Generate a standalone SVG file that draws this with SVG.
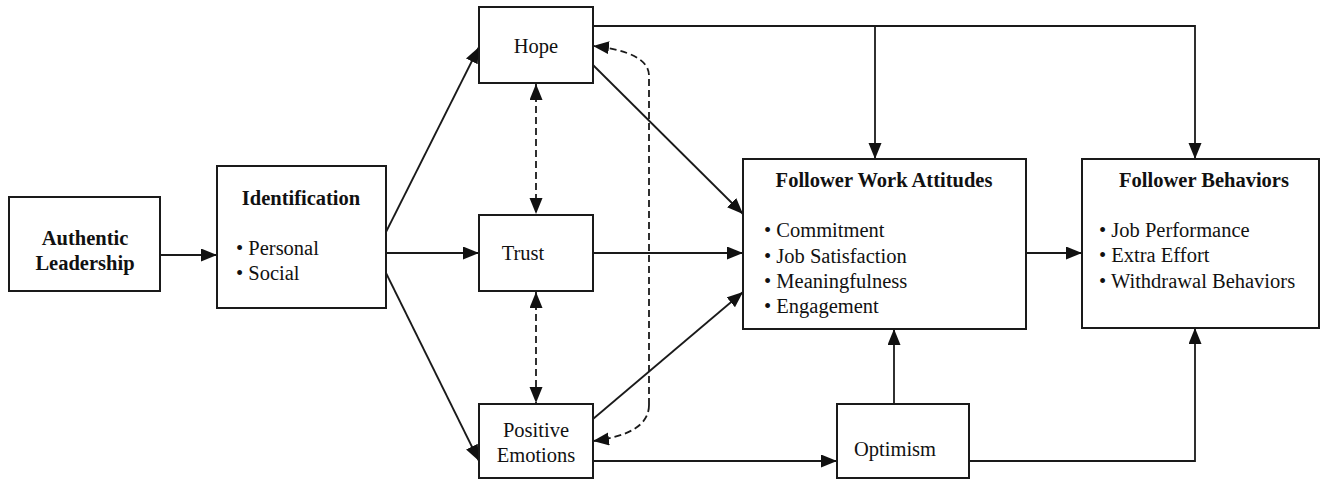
<svg xmlns="http://www.w3.org/2000/svg" width="1325" height="480" viewBox="0 0 1325 480">
<style>
.box{fill:#fff;stroke:#1a1a1a;stroke-width:2}
.t{font-family:"Liberation Serif","Times New Roman",serif;font-size:20.5px;fill:#111}
.b{font-weight:bold}
.c{text-anchor:middle}
.ln{fill:none;stroke:#1a1a1a;stroke-width:1.8}
.ds{fill:none;stroke:#1a1a1a;stroke-width:1.8;stroke-dasharray:7,4}
</style>
<defs>
<marker id="ah" markerUnits="userSpaceOnUse" markerWidth="18" markerHeight="14" refX="16" refY="6.5" orient="auto-start-reverse">
<path d="M0,0 L16,6.5 L0,13 z" fill="#111"/>
</marker>
</defs>
<rect width="1325" height="480" fill="#fff"/>
<g id="connectors">
<path class="ln" d="M160,255 L217,255" marker-end="url(#ah)"/>
<path class="ln" d="M386,232 L479,47" marker-end="url(#ah)"/>
<path class="ln" d="M386,253 L479,253" marker-end="url(#ah)"/>
<path class="ln" d="M386,273 L479,461" marker-end="url(#ah)"/>
<path class="ds" d="M536,84 L536,214" marker-start="url(#ah)" marker-end="url(#ah)"/>
<path class="ds" d="M536,292 L536,403" marker-start="url(#ah)" marker-end="url(#ah)"/>
<path class="ds" d="M649,405 Q649,434 593,441" marker-end="url(#ah)"/>
<path class="ds" d="M649,405 L649,76 Q649,52 593,46" marker-end="url(#ah)"/>
<path class="ln" d="M593,65 L743,214" marker-end="url(#ah)"/>
<path class="ln" d="M593,253 L743,253" marker-end="url(#ah)"/>
<path class="ln" d="M593,419 L743,292" marker-end="url(#ah)"/>
<path class="ln" d="M593,26 L1195,26 L1195,159" marker-end="url(#ah)"/>
<path class="ln" d="M875,26 L875,159" marker-end="url(#ah)"/>
<path class="ln" d="M1026,253 L1082,253" marker-end="url(#ah)"/>
<path class="ln" d="M593,461 L837,461" marker-end="url(#ah)"/>
<path class="ln" d="M894,404 L894,329" marker-end="url(#ah)"/>
<path class="ln" d="M969,461 L1195,461 L1195,328" marker-end="url(#ah)"/>
</g>
<g id="authentic-leadership">
<rect class="box" x="9" y="197" width="151" height="94"/>
<text class="t b c" x="85" y="245">Authentic</text>
<text class="t b c" x="85" y="270">Leadership</text>
</g>
<g id="identification">
<rect class="box" x="217" y="166" width="169" height="142"/>
<text class="t b c" x="301" y="205">Identification</text>
<text class="t" x="236" y="255">• Personal</text>
<text class="t" x="236" y="280">• Social</text>
</g>
<g id="hope">
<rect class="box" x="479" y="7" width="114" height="76"/>
<text class="t c" x="536" y="53">Hope</text>
</g>
<g id="trust">
<rect class="box" x="479" y="215" width="114" height="76"/>
<text class="t c" x="523" y="260">Trust</text>
</g>
<g id="positive-emotions">
<rect class="box" x="479" y="404" width="114" height="74"/>
<text class="t c" x="536" y="437">Positive</text>
<text class="t c" x="536" y="462">Emotions</text>
</g>
<g id="optimism">
<rect class="box" x="837" y="404" width="132" height="74"/>
<text class="t c" x="895" y="456">Optimism</text>
</g>
<g id="follower-work-attitudes">
<rect class="box" x="743" y="159" width="283" height="170"/>
<text class="t b c" x="884" y="187">Follower Work Attitudes</text>
<text class="t" x="764" y="237">• Commitment</text>
<text class="t" x="764" y="263">• Job Satisfaction</text>
<text class="t" x="764" y="288">• Meaningfulness</text>
<text class="t" x="764" y="313">• Engagement</text>
</g>
<g id="follower-behaviors">
<rect class="box" x="1082" y="159" width="237" height="169"/>
<text class="t b c" x="1204" y="187">Follower Behaviors</text>
<text class="t" x="1099" y="237">• Job Performance</text>
<text class="t" x="1099" y="262">• Extra Effort</text>
<text class="t" x="1099" y="288">• Withdrawal Behaviors</text>
</g>
</svg>
